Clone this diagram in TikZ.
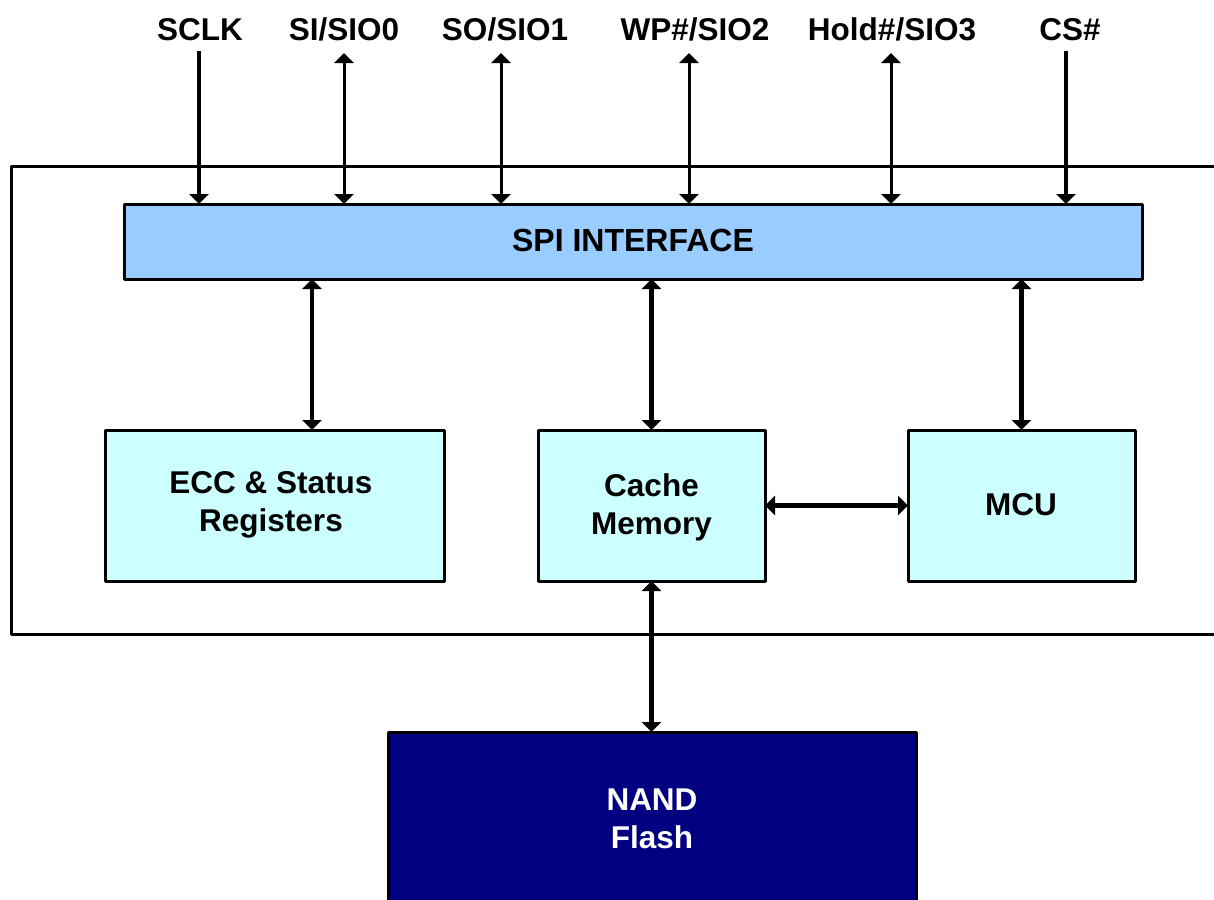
\documentclass[tikz,border=0pt]{standalone}
\usepackage{fontspec}
\setmainfont{Liberation Sans}
\usetikzlibrary{arrows.meta}
\definecolor{spiblue}{HTML}{99CCFF}
\definecolor{lightcyan}{HTML}{CCFFFF}
\definecolor{nandblue}{HTML}{000080}
\tikzset{
  txt/.style={font=\fontsize{31.5}{38}\selectfont\bfseries,align=center,inner sep=0pt,outer sep=0pt},
  pin/.style={txt,anchor=base},
  block/.style={draw=black,line width=3pt,outer sep=0pt,inner sep=0pt,line join=round},
  thin arrow/.style={line width=3pt,{Triangle[width=19pt,length=10pt]}-{Triangle[width=19pt,length=10pt]}},
  thick arrow/.style={line width=4.2pt,{Triangle[width=19pt,length=10pt]}-{Triangle[width=19pt,length=10pt]}},
  in arrow/.style={line width=4.2pt,-{Triangle[width=19pt,length=10pt]}},
}
\begin{document}
\begin{tikzpicture}[x=1pt,y=-1pt]
\clip (0,0) rectangle (1214,899);
\fill[white] (0,0) rectangle (1214,899);
% outer frame, open past the right edge
\draw[line width=3pt,line join=round] (1220,166) -- (11,166) -- (11,634) -- (1220,634);
% blocks
\node[block,fill=spiblue,minimum width=1018pt,minimum height=75pt] (spi) at (633,241.5) {};
\node[txt,font=\fontsize{32}{38}\selectfont\bfseries] (spilabel) at (633,240) {SPI INTERFACE};
\node[block,fill=lightcyan,minimum width=339pt,minimum height=151pt] (ecc) at (274.5,505.5) {};
\node[txt] (ecclabel) at (271,505) {ECC \& Status\\Registers};
\node[block,fill=lightcyan,minimum width=227pt,minimum height=151pt] (cache) at (651.5,505.5) {};
\node[txt] (cachelabel) at (651.5,507) {Cache\\Memory};
\node[block,fill=lightcyan,minimum width=227pt,minimum height=151pt] (mcu) at (1021.5,505.5) {};
\node[txt] (mculabel) at (1021,505) {MCU};
\node[block,fill=nandblue,minimum width=528pt,minimum height=228pt] (nand) at (652,846) {};
\node[txt,text=white] (nandlabel) at (652,819) {NAND\\Flash};
% pin labels
\node[pin] (l1) at (200,41) {SCLK};
\node[pin] (l2) at (344,41) {SI/SIO0};
\node[pin] (l3) at (505,41) {SO/SIO1};
\node[pin] (l4) at (695,41) {WP\#/SIO2};
\node[pin] (l5) at (892,41) {Hold\#/SIO3};
\node[pin] (l6) at (1070,41) {CS\#};
% free ends of the pin connectors
\coordinate (p1) at (199,51);
\coordinate (p2) at (344,53);
\coordinate (p3) at (501,53);
\coordinate (p4) at (689,53);
\coordinate (p5) at (891,53);
\coordinate (p6) at (1066,51);
\draw[in arrow] (p1) -- (p1 |- spi.north);
\draw[thin arrow] (p2) -- (p2 |- spi.north);
\draw[thin arrow] (p3) -- (p3 |- spi.north);
\draw[thin arrow] (p4) -- (p4 |- spi.north);
\draw[thin arrow] (p5) -- (p5 |- spi.north);
\draw[in arrow] (p6) -- (p6 |- spi.north);
% internal connectors
\coordinate (e) at (312,430);
\draw[thick arrow] (e |- spi.south) -- (e |- ecc.north);
\draw[thick arrow] (cache.north |- spi.south) -- (cache.north);
\draw[thick arrow] (mcu.north |- spi.south) -- (mcu.north);
\draw[thick arrow] (cache.east) -- (mcu.west);
\draw[thick arrow] (cache.south) -- (cache.south |- nand.north);
\end{tikzpicture}
\end{document}
